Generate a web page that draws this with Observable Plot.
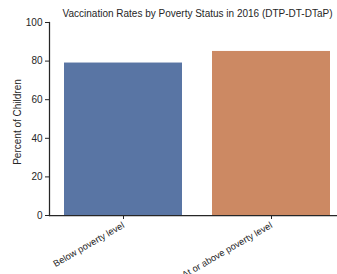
<!DOCTYPE html>
<html>
<head>
<meta charset="utf-8">
<script src="https://cdn.jsdelivr.net/npm/d3@7"></script>
<script src="https://cdn.jsdelivr.net/npm/@observablehq/plot@0.6"></script>
<style>
  html, body { margin: 0; padding: 0; background: #fff; overflow: hidden; }
  svg { font-family: "Liberation Sans", Arial, sans-serif; }
</style>
</head>
<body>
<div id="chart"></div>
<script>
const categories = ["Below poverty level", "At or above poverty level"];
const values = [79, 85];
const colors = ["#5975a4", "#cc8963"];
const yTicks = [0, 20, 40, 60, 80, 100];
const title = "Vaccination Rates by Poverty Status in 2016 (DTP-DT-DTaP)";
const yLabel = "Percent of Children";

const data = categories.map((c, i) => ({category: c, value: values[i]}));

const chart = Plot.plot({
  width: 337,
  height: 274,
  marginLeft: 49,
  marginRight: 0,
  marginTop: 22,
  marginBottom: 59,
  style: {fontFamily: "'Liberation Sans', Arial, sans-serif", fontSize: "10px", color: "#262626", background: "#fff", overflow: "hidden"},
  x: {domain: categories, range: [49, 345], paddingInner: 0.2, paddingOuter: 0.1, label: null},
  y: {domain: [0, 100], label: null},
  color: {domain: categories, range: colors},
  marks: [
    Plot.barY(data, {x: "category", y: "value", fill: "category"}),
    Plot.axisX({tickRotate: -30, tickSize: 4, tickPadding: 5, label: null, fontSize: 9.3, stroke: "#262626", fill: "#262626"}),
    Plot.axisY({ticks: yTicks, tickSize: 4, tickPadding: 3, label: null, fontSize: 10, stroke: "#262626", fill: "#262626"}),
    Plot.frame({anchor: "left", stroke: "#262626", strokeWidth: 1.25}),
    Plot.frame({anchor: "bottom", stroke: "#262626", strokeWidth: 1.25}),
    Plot.text([yLabel], {text: d => d, frameAnchor: "left", textAnchor: "middle", rotate: -90, dx: -32, dy: 3, fontSize: 10, fill: "#262626"}),
    Plot.text([title], {text: d => d, frameAnchor: "top", textAnchor: "middle", dy: -13, dx: 4, fontSize: 10, fill: "#262626"})
  ]
});
document.getElementById("chart").appendChild(chart);
</script>
</body>
</html>
